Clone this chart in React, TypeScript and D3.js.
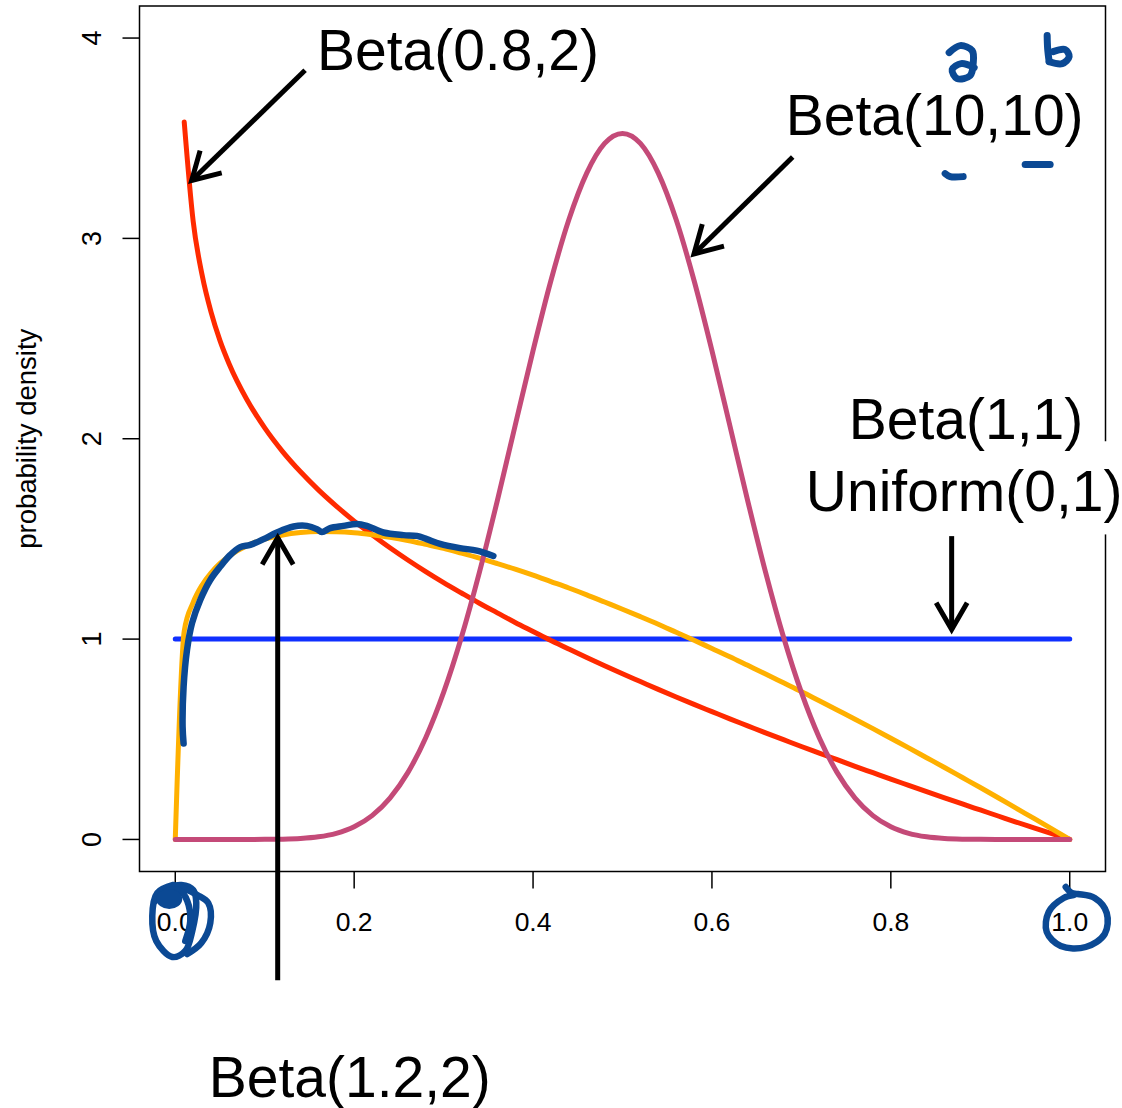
import React from 'react';
import * as d3 from 'd3';

const W = 1122;
const H = 1108;

// shared x grid (probability)
const gridX = [0, 0.01, 0.02, 0.03, 0.04, 0.05, 0.06, 0.08, 0.10, 0.12, 0.14, 0.16, 0.18, 0.20,
  0.22, 0.24, 0.26, 0.28, 0.30, 0.32, 0.34, 0.36, 0.38, 0.40, 0.42, 0.44, 0.46, 0.48, 0.50,
  0.52, 0.54, 0.56, 0.58, 0.60, 0.62, 0.64, 0.66, 0.68, 0.70, 0.72, 0.74, 0.76, 0.78, 0.80,
  0.82, 0.84, 0.86, 0.88, 0.90, 0.92, 0.94, 0.96, 0.98, 1.00];

// Beta(0.8,2) density (red)
const beta08_2 = [null, 3.581, 3.086, 2.817, 2.632, 2.490, 2.376, 2.196, 2.054, 1.936, 1.835, 1.745,
  1.664, 1.589, 1.521, 1.456, 1.395, 1.337, 1.282, 1.230, 1.179, 1.131, 1.083, 1.038, 0.993, 0.950,
  0.908, 0.867, 0.827, 0.788, 0.749, 0.711, 0.674, 0.638, 0.602, 0.567, 0.532, 0.498, 0.464, 0.431,
  0.398, 0.365, 0.333, 0.301, 0.270, 0.239, 0.208, 0.177, 0.147, 0.117, 0.087, 0.058, 0.029, 0];

// Beta(1.2,2) density (orange)
const beta12_2 = [0, 1.040, 1.183, 1.270, 1.331, 1.378, 1.414, 1.466, 1.499, 1.520, 1.532, 1.537,
  1.536, 1.531, 1.521, 1.508, 1.492, 1.473, 1.453, 1.429, 1.404, 1.377, 1.349, 1.319, 1.287, 1.255,
  1.221, 1.185, 1.149, 1.112, 1.074, 1.034, 0.994, 0.953, 0.912, 0.869, 0.826, 0.782, 0.738, 0.692,
  0.646, 0.600, 0.553, 0.505, 0.457, 0.408, 0.359, 0.309, 0.259, 0.208, 0.156, 0.105, 0.053, 0];

// Beta(10,10) density (pink)
const beta10_10 = [0, 0, 0, 0, 0, 0, 0, 0, 0.0004, 0.0015, 0.0049, 0.0132, 0.0307, 0.0635, 0.1191,
  0.2065, 0.3336, 0.5077, 0.7337, 1.0102, 1.3328, 1.690, 2.066, 2.440, 2.790, 3.093, 3.326, 3.474,
  3.524, 3.474, 3.326, 3.093, 2.790, 2.440, 2.066, 1.690, 1.3328, 1.0102, 0.7337, 0.5077, 0.3336,
  0.2065, 0.1191, 0.0635, 0.0307, 0.0132, 0.0049, 0.0015, 0.0004, 0, 0, 0, 0, 0];

// Beta(1,1) = Uniform(0,1) (blue)
const uniformX = [0, 1];
const uniformY = [1, 1];

// hand-drawn sketch over Beta(1.2,2)
const sketchX = [0.0093, 0.0082, 0.0093, 0.0131, 0.0187, 0.0279, 0.0391, 0.0503, 0.0615, 0.0726,
  0.0838, 0.0987, 0.1136, 0.1322, 0.1472, 0.1583, 0.1639, 0.1732, 0.1880, 0.2030, 0.2142, 0.2327,
  0.2551, 0.2701, 0.2812, 0.2961, 0.3184, 0.3371, 0.3556];
const sketchY = [0.479, 0.562, 0.762, 0.945, 1.079, 1.195, 1.295, 1.362, 1.420, 1.459, 1.470, 1.499,
  1.532, 1.562, 1.565, 1.549, 1.534, 1.554, 1.565, 1.575, 1.565, 1.532, 1.519, 1.515, 1.499, 1.475,
  1.454, 1.442, 1.415];

const xTicks = [0, 0.2, 0.4, 0.6, 0.8, 1.0];
const xTickLabels = ['0.0', '0.2', '0.4', '0.6', '0.8', '1.0'];
const yTicks = [0, 1, 2, 3, 4];
const yTickLabels = ['0', '1', '2', '3', '4'];
const yAxisTitle = 'probability density';

const labelTexts = ['Beta(0.8,2)', 'Beta(10,10)', 'Beta(1,1)', 'Uniform(0,1)', 'Beta(1.2,2)'];
const labelX = [0.316, 0.849, 0.884, 0.882, 0.195];
const labelY = [3.843, 3.518, 1.998, 1.638, -1.288];

const arrowX0 = [0.1451, 0.6903, 0.1145, 0.868];
const arrowY0 = [3.839, 3.406, -0.7025, 1.514];
const arrowX1 = [0.0183, 0.5799, 0.1145, 0.868];
const arrowY1 = [3.289, 2.9225, 1.506, 1.0475];

const COLORS = {
  red: '#ff2a00',
  orange: '#ffb000',
  pink: '#c44a78',
  blue: '#0f2fff',
  ink: '#0b4994',
};

const FONT = '"Liberation Sans", Arial, Helvetica, sans-serif';

export default function App() {
  const x = d3.scaleLinear().domain([-0.04, 1.04]).range([139.5, 1105.5]);
  const y = d3.scaleLinear().domain([-0.16, 4.16]).range([871.5, 6]);

  const line = d3.line<[number, number | null]>()
    .defined((d) => d[1] !== null)
    .x((d) => x(d[0]))
    .y((d) => y(d[1] as number))
    .curve(d3.curveMonotoneX);

  const series = (ys: (number | null)[]) => gridX.map((g, i) => [g, ys[i]] as [number, number | null]);

  const uniformPath = line(uniformX.map((v, i) => [v, uniformY[i]]));
  const redPath = line(series(beta08_2));
  const orangePath = line(series(beta12_2));
  const pinkPath = line(series(beta10_10));

  const smooth = d3.line<[number, number]>().curve(d3.curveCatmullRom.alpha(0.5));
  const sketchPath = smooth(sketchX.map((v, i) => [x(v), y(sketchY[i])]));

  // arrows
  const arrowEls = arrowX0.map((_, i) => {
    const xa = x(arrowX0[i]);
    const ya = y(arrowY0[i]);
    const xb = x(arrowX1[i]);
    const yb = y(arrowY1[i]);
    const ang = Math.atan2(yb - ya, xb - xa);
    const L = 31;
    const spread = Math.PI / 6;
    const w1 = [xb - L * Math.cos(ang - spread), yb - L * Math.sin(ang - spread)];
    const w2 = [xb - L * Math.cos(ang + spread), yb - L * Math.sin(ang + spread)];
    return (
      <g key={'ar' + i} stroke="#000" strokeWidth={5} fill="none" strokeLinecap="butt">
        <line x1={xa} y1={ya} x2={xb} y2={yb} />
        <path d={`M${w1[0]},${w1[1]} L${xb},${yb} L${w2[0]},${w2[1]}`} strokeLinejoin="miter" />
      </g>
    );
  });

  // handwritten annotations, positioned from scale anchors
  const a0x = x(0);
  const a0y = 921;
  const a1x = x(1);
  const loop0a = smooth([[-2, -36], [-18, -28], [-23, -5], [-19, 20], [-3, 36], [10, 30], [17, 10], [21, -18], [18, -31], [6, -36], [-6, -34]].map(([dx, dy]) => [a0x + dx, a0y + dy] as [number, number]));
  const loop0b = smooth([[8, -33], [22, -26], [33, -18], [35, 2], [26, 22], [12, 33]].map(([dx, dy]) => [a0x + dx, a0y + dy] as [number, number]));
  const loop0c = smooth([[-20, -20], [-8, -30], [5, -30], [12, -20], [15, 0], [10, 20]].map(([dx, dy]) => [a0x + dx, a0y + dy] as [number, number]));
  const loop1 = smooth([[-4, -34], [2, -28], [8, -27], [25, -23], [37, -8], [35, 13], [16, 26], [-9, 25], [-23, 11], [-21, -9], [-6, -23], [4, -26]].map(([dx, dy]) => [a1x + dx, a0y + dy] as [number, number]));

  const bx = x(labelX[1]);
  const by = y(labelY[1]);
  const tr = (pts: number[][]) => smooth(pts.map(([dx, dy]) => [bx + dx, by + dy] as [number, number]));
  const letterA = tr([[14.5, -82], [25.5, -89], [37.5, -84], [38.5, -71], [35.5, -59], [22.5, -56], [17.5, -65], [26.5, -71], [39.5, -67]]);
  const letterBStem = tr([[112.5, -99], [113, -86], [114.5, -73]]);
  const letterBBowl = tr([[114.5, -73], [127.5, -71], [134.5, -78], [130.5, -85], [118.5, -83]]);
  const under1 = tr([[10.5, 39], [15.5, 42], [28.5, 42]]);
  const under2 = tr([[90.5, 30], [115.5, 30]]);

  const left = x.range()[0];
  const right = x.range()[1];
  const bottom = y.range()[0];
  const top = y.range()[1];

  return (
    <svg width={W} height={H} viewBox={`0 0 ${W} ${H}`}
      style={{ position: 'absolute', left: 0, top: 0, background: '#fff' }}>
      <rect x={0} y={0} width={W} height={H} fill="#fff" />

      {/* plot box */}
      <rect x={left} y={top} width={right - left} height={bottom - top} fill="none" stroke="#000" strokeWidth={1.5} />

      {/* x axis */}
      <g fontFamily={FONT} fontSize={26.5} fill="#000">
        {xTicks.map((t, i) => (
          <g key={'xt' + i}>
            <line x1={x(t)} x2={x(t)} y1={bottom} y2={bottom + 17} stroke="#000" strokeWidth={1.5} />
            <text x={x(t)} y={bottom + 59} textAnchor="middle">{xTickLabels[i]}</text>
          </g>
        ))}
      </g>

      {/* y axis */}
      <g fontFamily={FONT} fontSize={27} fill="#000">
        {yTicks.map((t, i) => (
          <g key={'yt' + i}>
            <line x1={left - 17} x2={left} y1={y(t)} y2={y(t)} stroke="#000" strokeWidth={1.5} />
            <text transform={`translate(${left - 39},${y(t)}) rotate(-90)`} textAnchor="middle">{yTickLabels[i]}</text>
          </g>
        ))}
        <text transform={`translate(36,${y(2)}) rotate(-90)`} textAnchor="middle" fontSize={27.5}>{yAxisTitle}</text>
      </g>

      {/* curves */}
      <g fill="none" strokeWidth={5} strokeLinejoin="round" strokeLinecap="round">
        <path d={uniformPath || ''} stroke={COLORS.blue} />
        <path d={redPath || ''} stroke={COLORS.red} />
        <path d={orangePath || ''} stroke={COLORS.orange} />
        <path d={pinkPath || ''} stroke={COLORS.pink} />
      </g>

      {/* hand-drawn sketch */}
      <path d={sketchPath || ''} fill="none" stroke={COLORS.ink} strokeWidth={6.5} strokeLinecap="round" strokeLinejoin="round" />

      {/* white box behind Uniform label */}
      <rect x={x(0.7)} y={y(1.9875)} width={W - x(0.7)} height={y(1.5225) - y(1.9875)} fill="#fff" />

      {/* labels */}
      <g fontFamily={FONT} fontSize={57} fill="#000">
        {labelTexts.map((t, i) => (
          <text key={'lb' + i} x={x(labelX[i])} y={y(labelY[i])} textAnchor="middle">{t}</text>
        ))}
      </g>

      {arrowEls}

      {/* handwritten marks */}
      <g fill="none" stroke={COLORS.ink} strokeWidth={6.5} strokeLinecap="round" strokeLinejoin="round">
        <path d={loop0a || ''} />
        <path d={loop0b || ''} />
        <path d={loop0c || ''} />
        <ellipse cx={a0x - 6} cy={a0y - 22} rx={13} ry={10} fill={COLORS.ink} stroke="none" />
        <path d={loop1 || ''} />
        <path d={letterA || ''} strokeWidth={7} />
        <path d={letterBStem || ''} strokeWidth={7} />
        <path d={letterBBowl || ''} strokeWidth={7} />
        <path d={under1 || ''} strokeWidth={7} />
        <path d={under2 || ''} strokeWidth={7} />
      </g>
    </svg>
  );
}
